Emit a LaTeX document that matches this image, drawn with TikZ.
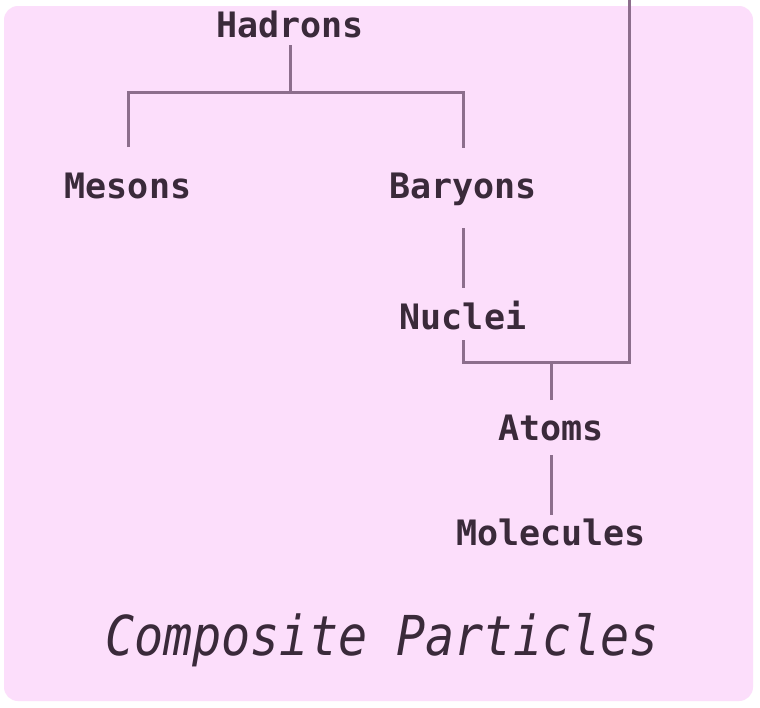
\documentclass[tikz,border=0pt]{standalone}
\usepackage{fontspec}
\setmonofont{DejaVu Sans Mono}
\newfontfamily\labelfont{DejaVu Sans Mono Bold}
\newfontfamily\titlefont[FakeStretch=0.88]{DejaVu Sans Mono Oblique}
\definecolor{bgpink}{HTML}{FCDEFB}
\definecolor{linecol}{HTML}{8C6E8C}
\definecolor{textcol}{HTML}{3A2A3A}
\tikzset{
  lbl/.style={inner sep=0pt, outer sep=0pt, text height=26pt, text depth=7pt,
    font=\labelfont\fontsize{35}{40}\selectfont, text=textcol, anchor=base},
  conn/.style={draw=linecol, line width=3pt},
}
\begin{document}
\begin{tikzpicture}[x=1pt,y=-1pt]
\useasboundingbox (0,0) rectangle (760,707);
\fill[white] (0,0) rectangle (760,707);
\fill[bgpink, rounded corners=14pt] (4,6) rectangle (753,701);

\node[lbl] (hadrons) at (290,37) {Hadrons};
\node[lbl] (mesons) at (128,198) {Mesons};
\node[lbl] (baryons) at (463,198) {Baryons};
\node[lbl] (nuclei) at (463,329) {Nuclei};
\node[lbl] (atoms) at (551,440) {Atoms};
\node[lbl] (molecules) at (551,545) {Molecules};
\node[inner sep=0pt, anchor=base, text=textcol,
      font=\titlefont\fontsize{55}{60}\selectfont] (title) at (382,655) {Composite Particles};

\coordinate (hbar) at (290,92);
\coordinate (junction) at (629,362);
\coordinate (topend) at (629,-5);

\draw[conn] ([yshift=-1pt]hadrons.south) -- (hbar);
\draw[conn] ([yshift=25pt]mesons.north) |- (hbar) -| ([yshift=24pt]baryons.north);
\draw[conn] ([yshift=-23pt]baryons.south) -- ([yshift=15pt]nuclei.north);
\draw[conn] ([yshift=-4pt]nuclei.south) |- (junction) -- (topend);
\draw[conn] ([yshift=14pt]atoms.north) -- (atoms.north |- junction);
\draw[conn] ([yshift=-8pt]atoms.south) -- ([yshift=4pt]molecules.north);
\end{tikzpicture}
\end{document}
